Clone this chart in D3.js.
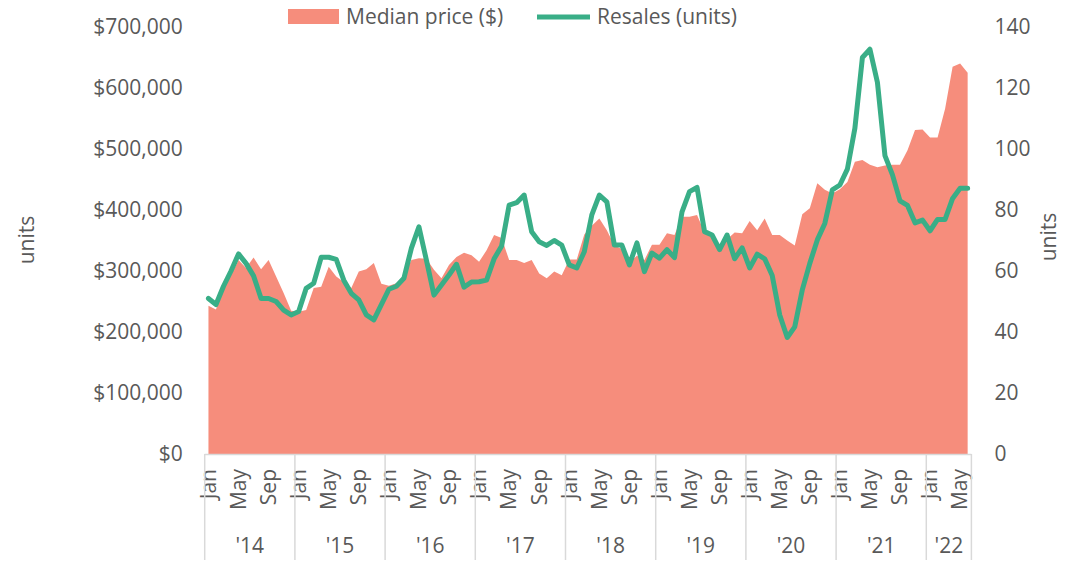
<!DOCTYPE html>
<html>
<head>
<meta charset="utf-8">
<script src="https://cdn.jsdelivr.net/npm/d3@7"></script>
<style>
  body { margin: 0; background: #fff; }
  svg { display: block; font-family: "Open Sans", sans-serif; }
</style>
</head>
<body>
<svg id="chart" width="1076" height="563"></svg>
<script>
// categories
const years = ["'14", "'15", "'16", "'17", "'18", "'19", "'20", "'21", "'22"];
const monthsPerYear = [12, 12, 12, 12, 12, 12, 12, 12, 6];
const monthNames = ['Jan', 'Feb', 'Mar', 'Apr', 'May', 'Jun', 'Jul', 'Aug', 'Sep', 'Oct', 'Nov', 'Dec'];

// series values, Jan 2014 .. Jun 2022
const medianPrice = [
  243000, 237000, 274000, 293000, 318000, 305000, 322000, 303000, 318000, 291000, 264000, 235000,
  233000, 236000, 272000, 274000, 307000, 291000, 282000, 272000, 299000, 303000, 313000, 279000,
  276000, 280000, 293000, 318000, 321000, 320000, 302000, 288000, 310000, 323000, 330000, 326000,
  315000, 334000, 359000, 354000, 318000, 318000, 313000, 318000, 296000, 288000, 299000, 293000,
  319000, 319000, 360000, 374000, 386000, 367000, 342000, 336000, 314000, 325000, 318000, 343000,
  343000, 362000, 359000, 389000, 389000, 392000, 363000, 356000, 340000, 352000, 363000, 362000,
  382000, 367000, 386000, 359000, 359000, 350000, 342000, 393000, 403000, 444000, 433000, 427000,
  434000, 446000, 479000, 482000, 474000, 470000, 473000, 474000, 474000, 498000, 531000, 532000,
  519000, 519000, 566000, 635000, 640000, 625000
];
const resales = [
  51, 49, 55, 60, 65.6, 62.5, 58.4, 51, 51, 50, 47.2, 45.6,
  46.7, 54.3, 56, 64.5, 64.5, 63.8, 57, 52.7, 50.5, 45.6, 44, 49,
  54, 55, 57.6, 67.5, 74.5, 63.5, 52.1, 55.4, 58.7, 62.2, 54.7, 56.4,
  56.5, 57, 64, 68.2, 81.6, 82.4, 84.9, 72.9, 69.6, 68.4, 70, 68.5,
  62, 61, 66.3, 78.4, 84.9, 82.7, 68.5, 68.5, 62, 69.2, 59.8, 65.9,
  64.2, 67, 64.4, 79.4, 86, 87.4, 72.9, 71.8, 67, 71.8, 64, 67.6,
  61, 65.5, 64, 58.5, 45.6, 38.2, 41.7, 53.8, 62.5, 70.2, 75.6, 86.6,
  88.2, 93.4, 106.8, 130, 132.7, 121.8, 97.8, 91.5, 83, 81.5, 75.8, 76.7,
  73.2, 76.9, 76.9, 83.8, 87.1, 87.1
];

// tick labels
const priceTicks = [0, 100000, 200000, 300000, 400000, 500000, 600000, 700000];
const unitTicks = [0, 20, 40, 60, 80, 100, 120, 140];
const shownMonths = ['Jan', 'May', 'Sep'];

const areaColor = '#F68D7C';
const lineColor = '#39AE87';
const textColor = '#595959';
const axisColor = '#d9d9d9';
const fontSize = '21px';

// build month list
const months = [];
years.forEach((y, yi) => {
  for (let m = 0; m < monthsPerYear[yi]; m++) {
    months.push({ idx: months.length, year: y, month: monthNames[m] });
  }
});
const data = months.map((d, i) => ({ ...d, price: medianPrice[i], units: resales[i] }));

const svg = d3.select('#chart');
const plotLeft = 204.7, plotRight = 971.4, plotTop = 27, plotBottom = 454;

const x = d3.scaleBand()
  .domain(months.map(d => d.idx))
  .range([plotLeft, plotRight])
  .padding(0);
const cx = i => x(i) + x.bandwidth() / 2;

const yPrice = d3.scaleLinear().domain([0, 700000]).range([plotBottom, plotTop]);
const yUnits = d3.scaleLinear().domain([0, 140]).range([plotBottom, plotTop]);

// area
const area = d3.area()
  .x(d => cx(d.idx))
  .y0(yPrice(0))
  .y1(d => yPrice(d.price));
svg.append('path')
  .datum(data)
  .attr('fill', areaColor)
  .attr('d', area);

// line
const line = d3.line()
  .x(d => cx(d.idx))
  .y(d => yUnits(d.units));
svg.append('path')
  .datum(data)
  .attr('fill', 'none')
  .attr('stroke', lineColor)
  .attr('stroke-width', 5)
  .attr('stroke-linejoin', 'round')
  .attr('stroke-linecap', 'round')
  .attr('d', line);

// left axis
const yAxisL = svg.append('g')
  .attr('transform', `translate(${plotLeft}, 0)`)
  .call(d3.axisLeft(yPrice)
    .tickValues(priceTicks)
    .tickFormat(d => '$' + d3.format(',')(d))
    .tickSize(0)
    .tickPadding(22));
yAxisL.select('.domain').remove();

// right axis
const yAxisR = svg.append('g')
  .attr('transform', `translate(${plotRight}, 0)`)
  .call(d3.axisRight(yUnits)
    .tickValues(unitTicks)
    .tickSize(0)
    .tickPadding(23));
yAxisR.select('.domain').remove();

// month axis
const xAxis = svg.append('g')
  .attr('transform', `translate(0, ${plotBottom})`)
  .call(d3.axisBottom(x)
    .tickValues(months.filter(d => shownMonths.includes(d.month)).map(d => d.idx))
    .tickFormat(i => months[i].month)
    .tickSize(0));
xAxis.select('.domain').remove();
xAxis.selectAll('text')
  .attr('transform', 'rotate(-90)')
  .attr('x', -15)
  .attr('y', 0)
  .attr('dy', '0.35em')
  .attr('text-anchor', 'end');

svg.selectAll('.tick text')
  .attr('fill', textColor)
  .style('font-size', fontSize)
  .style('font-family', '"Open Sans", sans-serif');

// baseline and year separators
svg.append('line')
  .attr('x1', plotLeft).attr('x2', plotRight)
  .attr('y1', plotBottom + 0.5).attr('y2', plotBottom + 0.5)
  .attr('stroke', axisColor)
  .attr('stroke-width', 1.5);

const yearStarts = years.map(y => months.find(d => d.year === y).idx);
const bounds = yearStarts.map(i => x(i)).concat([plotRight]);
svg.selectAll('.sep')
  .data(bounds)
  .enter()
  .append('line')
  .attr('x1', d => d).attr('x2', d => d)
  .attr('y1', plotBottom).attr('y2', 560)
  .attr('stroke', axisColor)
  .attr('stroke-width', 1.5);

// year labels
svg.selectAll('.year')
  .data(years)
  .enter()
  .append('text')
  .attr('x', (d, i) => (bounds[i] + bounds[i + 1]) / 2)
  .attr('y', 546)
  .attr('dy', '0.35em')
  .attr('text-anchor', 'middle')
  .attr('fill', textColor)
  .style('font-size', fontSize)
  .text(d => d);

// axis titles
svg.append('text')
  .attr('transform', 'translate(27, 240) rotate(-90)')
  .attr('text-anchor', 'middle')
  .attr('dy', '0.35em')
  .attr('fill', textColor)
  .style('font-size', fontSize)
  .text('units');
svg.append('text')
  .attr('transform', 'translate(1049, 237) rotate(-90)')
  .attr('text-anchor', 'middle')
  .attr('dy', '0.35em')
  .attr('fill', textColor)
  .style('font-size', fontSize)
  .text('units');

// legend
const legend = svg.append('g');
legend.append('rect')
  .attr('x', 288).attr('y', 9)
  .attr('width', 51).attr('height', 15)
  .attr('fill', areaColor);
legend.append('text')
  .attr('x', 346).attr('y', 17)
  .attr('dy', '0.35em')
  .attr('fill', textColor)
  .style('font-size', fontSize)
  .text('Median price ($)');
legend.append('line')
  .attr('x1', 537).attr('x2', 590)
  .attr('y1', 17).attr('y2', 17)
  .attr('stroke', lineColor)
  .attr('stroke-width', 5);
legend.append('text')
  .attr('x', 597).attr('y', 17)
  .attr('dy', '0.35em')
  .attr('fill', textColor)
  .style('font-size', fontSize)
  .text('Resales (units)');
</script>
</body>
</html>
